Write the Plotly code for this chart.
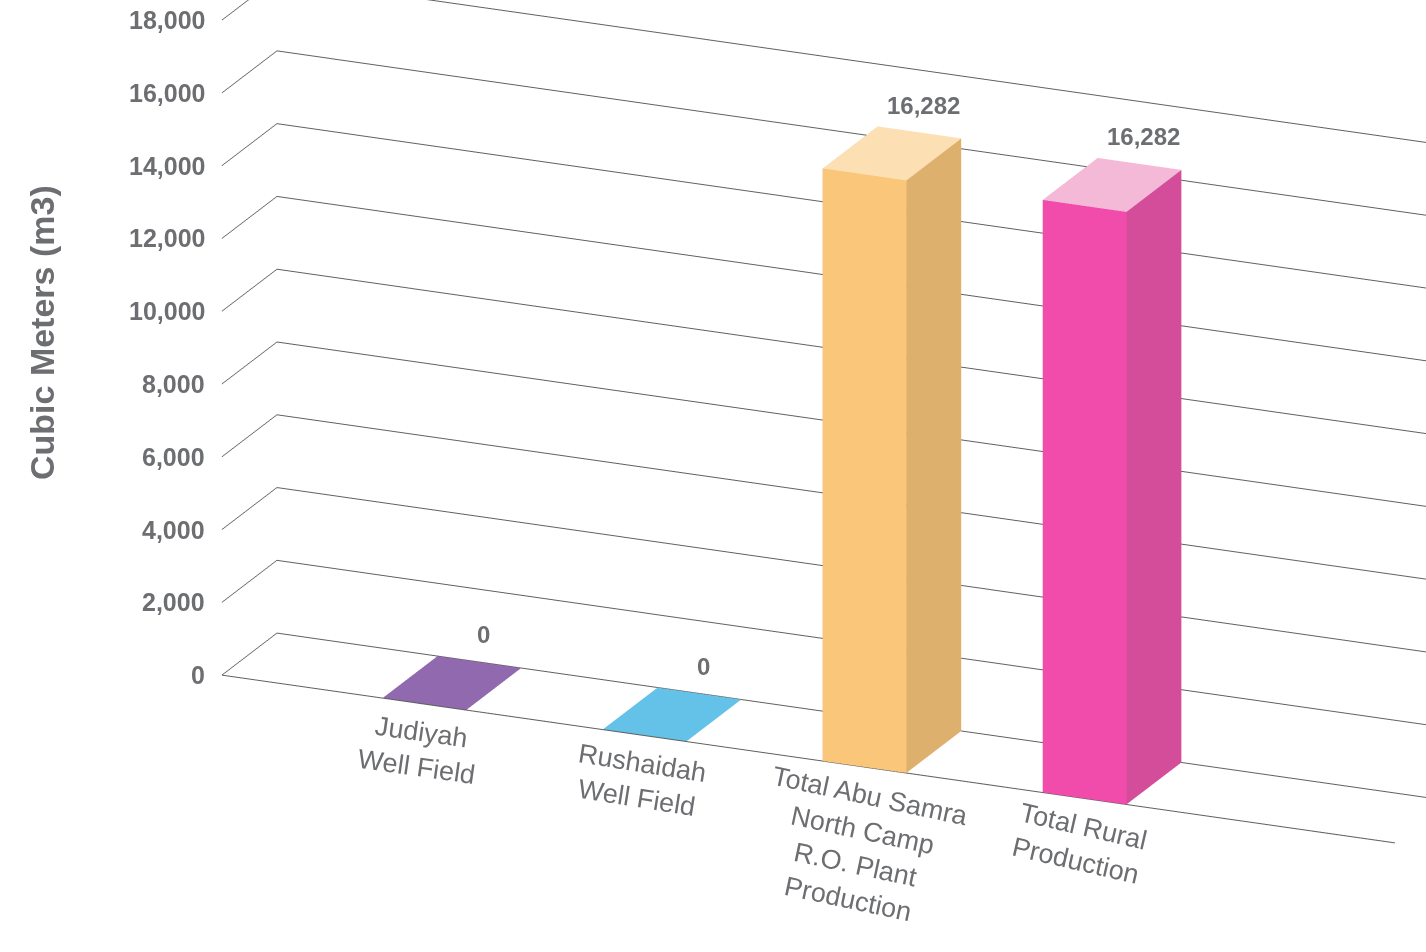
import math
import plotly.graph_objects as go

# Chart data
categories = [
    "Judiyah<br>Well Field",
    "Rushaidah<br>Well Field",
    "Total Abu Samra<br>North Camp<br>R.O. Plant<br>Production",
    "Total Rural<br>Production",
]
values = [0, 0, 16282, 16282]
front_colors = ["#9169AF", "#64C1E8", "#FAC67A", "#F14BAC"]
top_colors = ["#9169AF", "#64C1E8", "#FCDFB3", "#F4B9D6"]
side_colors = ["#7D5A98", "#52A6C8", "#DDB06E", "#D44D9A"]
z_ticks = list(range(0, 18001, 2000))
z_tick_labels = [f"{t:,}" for t in z_ticks]

# label styling (slant follows the floor edge)
label_angles = [8, 9, 12, 13]

TEXT = "#6D6E71"
GRID = "#606060"
FONT = "Liberation Sans, Arial, sans-serif"
X_RANGE = [-0.92, 4.41]
Y_RANGE = [0.0, 1.0]
Z_RANGE = [0, 18000]
BAR_HALF = 0.19

# camera geometry: yaw / pitch of the viewing direction (degrees)
YAW, PITCH = 23.4, 19.3


def bar_trace(i, v, front, top, side):
    x0, x1 = i - BAR_HALF, i + BAR_HALF
    y0, y1 = Y_RANGE
    light = dict(ambient=1.0, diffuse=0.0, specular=0.0, roughness=1.0, fresnel=0.0)
    if v == 0:
        return go.Mesh3d(
            x=[x0, x1, x1, x0], y=[y0, y0, y1, y1], z=[0, 0, 0, 0],
            i=[0, 0], j=[1, 2], k=[2, 3],
            facecolor=[front, front], flatshading=True, lighting=light,
            hoverinfo="skip", showscale=False,
        )
    xs = [x0, x1, x1, x0, x0, x1, x1, x0]
    ys = [y0, y0, y1, y1, y0, y0, y1, y1]
    zs = [0, 0, 0, 0, v, v, v, v]
    tri = [
        (0, 1, 5), (0, 5, 4),      # front
        (1, 2, 6), (1, 6, 5),      # right side
        (4, 5, 6), (4, 6, 7),      # top
        (0, 3, 7), (0, 7, 4),      # left side
        (3, 2, 6), (3, 6, 7),      # back
        (0, 1, 2), (0, 2, 3),      # bottom
    ]
    cols = [front, front, side, side, top, top, side, side, front, front, front, front]
    return go.Mesh3d(
        x=xs, y=ys, z=zs,
        i=[t[0] for t in tri], j=[t[1] for t in tri], k=[t[2] for t in tri],
        facecolor=cols, flatshading=True, lighting=light,
        hoverinfo="skip", showscale=False,
    )


fig = go.Figure()
for idx, (v, fc, tc, sc) in enumerate(zip(values, front_colors, top_colors, side_colors)):
    fig.add_trace(bar_trace(idx, v, fc, tc, sc))

# front edge of the floor
fig.add_trace(go.Scatter3d(
    x=X_RANGE, y=[Y_RANGE[0]] * 2, z=[0, 0], mode="lines",
    line=dict(color=GRID, width=2), hoverinfo="skip", showlegend=False,
))

annotations = []
for t, lab in zip(z_ticks, z_tick_labels):
    annotations.append(dict(
        x=X_RANGE[0], y=Y_RANGE[0], z=t, text=f"<b>{lab}</b>", showarrow=False,
        xanchor="right", yanchor="middle", xshift=-15,
        font=dict(family=FONT, size=25, color=TEXT),
    ))
for idx, (cat, v, ang) in enumerate(zip(categories, values, label_angles)):
    annotations.append(dict(
        x=idx, y=Y_RANGE[1], z=v, text=f"<b>{v:,}</b>", showarrow=False,
        xanchor="center", yanchor="bottom", yshift=12, xshift=4,
        font=dict(family=FONT, size=24, color=TEXT),
    ))
    n_lines = cat.count("<br>") + 1
    annotations.append(dict(
        x=idx, y=Y_RANGE[0], z=0, text=cat, showarrow=False,
        xanchor="center", yanchor="middle", yshift=-(10 + 17.5 * n_lines), xshift=-5,
        textangle=ang,
        font=dict(family=FONT, size=27, color=TEXT),
    ))

hidden = dict(
    showgrid=False, zeroline=False, showline=False, showticklabels=False,
    ticks="", showbackground=False, showspikes=False, title=dict(text=""),
)

yaw, pitch = math.radians(YAW), math.radians(PITCH)
view_dir = (math.sin(yaw) * math.cos(pitch), -math.cos(yaw) * math.cos(pitch), math.sin(pitch))
center = dict(x=-0.219, y=-0.144, z=-0.130)
eye = dict(
    x=center["x"] + 4 * view_dir[0],
    y=center["y"] + 4 * view_dir[1],
    z=center["z"] + 4 * view_dir[2],
)

fig.update_layout(
    width=1426, height=952,
    margin=dict(l=0, r=0, t=0, b=0),
    paper_bgcolor="white",
    showlegend=False,
    scene=dict(
        domain=dict(x=[0, 1], y=[0, 1]),
        xaxis=dict(range=X_RANGE, **hidden),
        yaxis=dict(range=Y_RANGE, **hidden),
        zaxis=dict(
            range=Z_RANGE, tickvals=z_ticks, showgrid=True, gridcolor=GRID, gridwidth=2,
            zeroline=False, showline=False, showticklabels=False, ticks="",
            showbackground=False, showspikes=False, title=dict(text=""),
        ),
        aspectmode="manual",
        aspectratio=dict(x=2.685, y=0.291, z=1.458),
        camera=dict(
            projection=dict(type="orthographic"),
            up=dict(x=0, y=0, z=1),
            center=center,
            eye=eye,
        ),
        annotations=annotations,
        dragmode=False,
    ),
    annotations=[dict(
        x=42 / 1426, y=1 - 333 / 952, xref="paper", yref="paper",
        text="<b>Cubic Meters (m3)</b>", textangle=-90, showarrow=False,
        xanchor="center", yanchor="middle",
        font=dict(family=FONT, size=34, color=TEXT),
    )],
)

fig.write_html("out.html")
